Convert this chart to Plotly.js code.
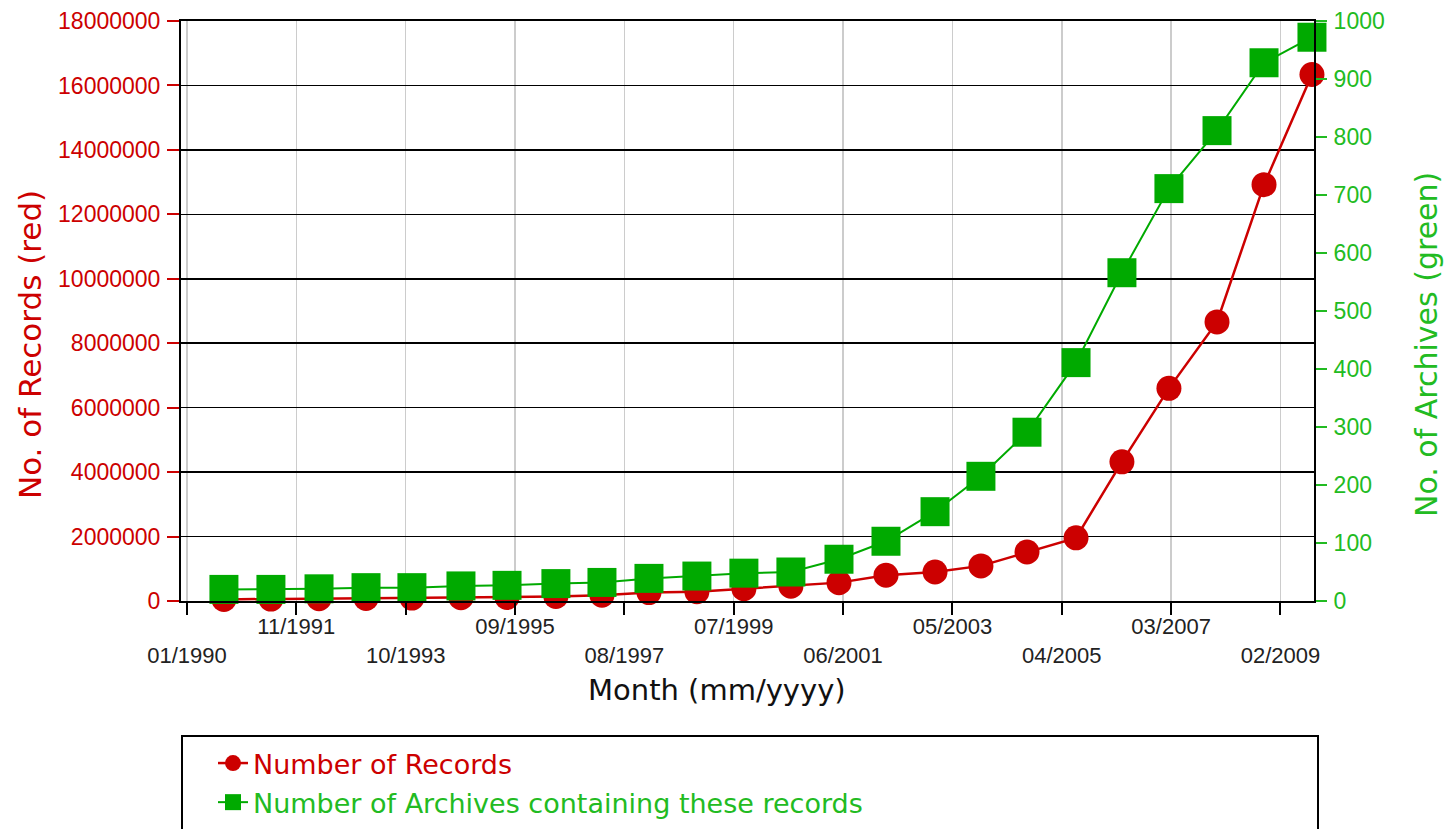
<!DOCTYPE html>
<html>
<head>
<meta charset="utf-8">
<script src="https://cdn.plot.ly/plotly-3.0.1.min.js"></script>
<style>html,body{margin:0;padding:0;background:#fff;}#chart{width:1444px;height:829px;}</style>
</head>
<body>
<div id="chart"></div>
<script>
// ---- data ----
var markerDates = ['1990-08-25','1991-06-21','1992-04-23','1993-02-17','1993-12-07','1994-10-16',
  '1995-08-06','1996-06-13','1997-04-03','1998-01-28','1998-11-30','1999-09-26','2000-07-22',
  '2001-05-25','2002-03-21','2003-01-28','2003-11-17','2004-09-06','2005-07-16','2006-05-05',
  '2007-03-01','2008-01-02','2008-10-28','2009-08-30'];
var numRecords = [50000, 60000, 70000, 80000, 90000, 100000, 110000, 140000, 180000, 260000,
  290000, 380000, 460000, 570000, 800000, 900000, 1090000, 1520000, 1960000, 4320000,
  6600000, 8660000, 12920000, 16340000];
var numArchives = [20, 20, 21, 23, 23, 26, 27, 30, 32, 39, 43, 48, 50, 72, 103, 154, 215, 291,
  411, 566, 711, 811, 928, 972];
var tickDates = ['1990-01-01','1991-11-30','1993-10-28','1995-09-26','1997-08-24','1999-07-23',
  '2001-06-20','2003-05-19','2005-04-16','2007-03-15','2009-02-10'];
var tickLabels = ['01/1990','11/1991','10/1993','09/1995','08/1997','07/1999','06/2001',
  '05/2003','04/2005','03/2007','02/2009'];
var seriesNames = ['Number of Records', 'Number of Archives containing these records'];

var RED = '#CC0000', GREEN = '#00AA00', GREENTXT = '#22BB22';
var WIDEFONT = '"DejaVu Sans", Verdana, sans-serif';

// staggered labels: every other label on a lower row
var staggered = tickLabels.map(function(t, i){ return i % 2 === 0 ? '<br>' + t : t; });

var traces = [
  {
    x: markerDates, y: numRecords, type: 'scatter', mode: 'lines+markers',
    name: '<span style="color:' + RED + '">' + seriesNames[0] + '</span>',
    legendgroup: 'a',
    line: {color: RED, width: 2.5},
    marker: {symbol: 'circle', size: 25, color: RED},
    cliponaxis: false, xaxis: 'x', yaxis: 'y'
  },
  {
    x: markerDates, y: numArchives, type: 'scatter', mode: 'lines+markers',
    name: '<span style="color:' + GREENTXT + '">' + seriesNames[1] + '</span>',
    legendgroup: 'b',
    line: {color: GREEN, width: 2},
    marker: {symbol: 'square', size: 29, color: GREEN},
    cliponaxis: false, xaxis: 'x', yaxis: 'y2'
  }
];

var L = 181, R = 1314, T = 21, B = 601, W = 1444, H = 829;
function px(x){ return (x - L) / (R - L); }
function py(y){ return (B - y) / (B - T); }

var layout = {
  width: W, height: H,
  margin: {l: L, r: W - R, t: T, b: H - B, pad: 0, autoexpand: false},
  paper_bgcolor: '#fff', plot_bgcolor: '#fff',
  font: {family: '"Liberation Sans", Arial, sans-serif', color: '#222'},
  showlegend: true,
  xaxis: {
    type: 'date', range: ['1989-11-24', '2009-09-12'],
    tickmode: 'array', tickvals: tickDates, ticktext: staggered,
    ticks: 'outside', ticklen: 12, tickwidth: 2, tickcolor: '#000',
    tickfont: {size: 22, color: '#222'}, ticklabelstandoff: -7,
    showline: true, linecolor: '#000', linewidth: 2, mirror: true,
    showgrid: true, gridcolor: '#CCCCCC', gridwidth: 1.5, zeroline: false,
    automargin: false
  },
  yaxis: {
    range: [0, 18000000], tick0: 0, dtick: 2000000, tickformat: 'd',
    ticks: 'outside', ticklen: 12, tickwidth: 2, tickcolor: RED,
    tickfont: {size: 23, color: RED}, ticklabelstandoff: 2,
    showline: true, linecolor: '#000', linewidth: 2,
    showgrid: true, gridcolor: '#000', gridwidth: 1.5, zeroline: false,
    automargin: false
  },
  yaxis2: {
    overlaying: 'y', side: 'right', range: [0, 1000], tick0: 0, dtick: 100,
    ticks: 'outside', ticklen: 11, tickwidth: 2, tickcolor: GREENTXT,
    tickfont: {size: 23, color: GREENTXT}, ticklabelstandoff: 2,
    showline: true, linecolor: '#000', linewidth: 2,
    showgrid: false, zeroline: false, automargin: false
  },
  legend: {
    x: px(213), y: py(739), xanchor: 'left', yanchor: 'top',
    font: {size: 27, family: WIDEFONT}, bgcolor: 'rgba(0,0,0,0)', borderwidth: 0,
    tracegroupgap: 1, itemsizing: 'trace'
  },
  shapes: [{
    type: 'rect', xref: 'paper', yref: 'paper',
    x0: px(182), x1: px(1318), y0: py(900), y1: py(736),
    line: {color: '#000', width: 2}, fillcolor: 'rgba(0,0,0,0)'
  }],
  annotations: [
    {text: 'No. of Records (red)', xref: 'paper', yref: 'paper', x: px(30), y: py(345),
     xanchor: 'center', yanchor: 'middle', textangle: -90, showarrow: false,
     font: {size: 31, color: RED, family: WIDEFONT}},
    {text: 'No. of Archives (green)', xref: 'paper', yref: 'paper', x: px(1426), y: py(345),
     xanchor: 'center', yanchor: 'middle', textangle: -90, showarrow: false,
     font: {size: 30, color: GREENTXT, family: WIDEFONT}},
    {text: 'Month (mm/yyyy)', xref: 'paper', yref: 'paper', x: px(717), y: py(690),
     xanchor: 'center', yanchor: 'middle', showarrow: false,
     font: {size: 29, color: '#111', family: WIDEFONT}}
  ]
};

Plotly.newPlot('chart', traces, layout, {displayModeBar: false, staticPlot: true});
</script>
</body>
</html>
